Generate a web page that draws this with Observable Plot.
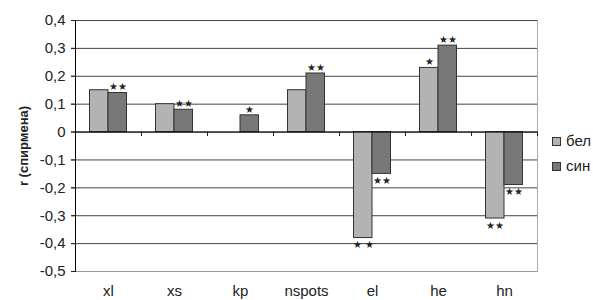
<!DOCTYPE html>
<html><head><meta charset="utf-8">
<script src="https://cdn.jsdelivr.net/npm/d3@7"></script>
<script src="https://cdn.jsdelivr.net/npm/@observablehq/plot@0.6"></script>
<style>
body{margin:0;background:#fff;font-family:"Liberation Sans",Arial,sans-serif;}
#wrap{position:relative;width:593px;height:300px;}
.lg{position:absolute;left:552px;font-size:15px;line-height:16px;color:#222;display:flex;align-items:center;}
.lg span.sw{display:inline-block;width:7px;height:7px;border:1px solid #333;margin-right:5px;}
</style></head>
<body><div id="wrap"></div>
<script>
const categories = ["xl","xs","kp","nspots","el","he","hn"];
const series = ["бел","син"];
const valuesBel = [0.15, 0.10, null, 0.15, -0.38, 0.23, -0.31];
const valuesSin = [0.14, 0.08, 0.06, 0.21, -0.15, 0.31, -0.19];
const starsBel = ["", "", "", "", "★ ★", "★", "★★"];
const starsSin = ["★★", "★★", "★", "★★", "★★", "★★", "★★"];
const yTicks = [0.4,0.3,0.2,0.1,0,-0.1,-0.2,-0.3,-0.4,-0.5];
const colors = ["#b3b3b3","#787878"];

const rows = [];
categories.forEach((c,i)=>{
  if (valuesBel[i] != null) rows.push({cat:c, s:"бел", v:valuesBel[i], star:starsBel[i]});
  rows.push({cat:c, s:"син", v:valuesSin[i], star:starsSin[i]});
});
const bel = rows.filter(d=>d.s==="бел"), sin = rows.filter(d=>d.s==="син");
const pos = a => a.filter(d=>d.v>=0 && d.star), neg = a => a.filter(d=>d.v<0 && d.star);
const fmt = d => d===0 ? "0" : d.toFixed(1).replace(".", ",");

const chart = Plot.plot({
  width:593, height:300,
  marginLeft:75, marginRight:56, marginTop:20, marginBottom:29,
  style:{fontFamily:"Liberation Sans, Arial, sans-serif", fontSize:"15px", color:"#222"},
  x:{domain:categories, padding:0},
  y:{domain:[-0.5,0.4]},
  marks:[
    Plot.ruleY(yTicks, {stroke:"#444", strokeWidth:1, insetLeft:-4}),
    Plot.frame({anchor:"right", stroke:"#aaa"}),
    Plot.ruleY([-0.5], {stroke:"#999"}),
    Plot.barY(bel, {x:"cat", y:"v", fill:colors[0], stroke:"#333", strokeWidth:1, insetLeft:14.5, insetRight:33}),
    Plot.barY(sin, {x:"cat", y:"v", fill:colors[1], stroke:"#333", strokeWidth:1, insetLeft:33, insetRight:14.5}),
    Plot.ruleY([0], {stroke:"#000"}),
    Plot.ruleX(categories, {x:d=>d, y1:0, y2:-0.016, dx:33, stroke:"#222", strokeWidth:1}),
    Plot.text(pos(bel), {x:"cat", y:"v", text:"star", dx:-9.25, dy:-6, fontSize:10, fill:"#222"}),
    Plot.text(pos(sin), {x:"cat", y:"v", text:"star", dx:9.25, dy:-6, fontSize:10, fill:"#222"}),
    Plot.text(neg(bel), {x:"cat", y:"v", text:"star", dx:-9.25, dy:7, fontSize:10, fill:"#222"}),
    Plot.text(neg(sin), {x:"cat", y:"v", text:"star", dx:9.25, dy:7, fontSize:10, fill:"#222"}),
    Plot.axisY({ticks:yTicks, tickFormat:fmt, tickSize:4, tickPadding:6, label:"r (спирмена)", labelAnchor:"center", labelArrow:false, labelOffset:57}),
    Plot.frame({anchor:"left", stroke:"#000"}),
    Plot.axisX({tickSize:0, tickPadding:14, label:null})
  ]
});
document.getElementById("wrap").appendChild(chart);
chart.querySelectorAll("text").forEach(t=>{ if(t.textContent.includes("спирмена")) { t.style.fontWeight="bold"; t.style.fontSize="13px"; } });
const wrap=document.getElementById("wrap");
series.forEach((s,i)=>{
  const d=document.createElement("div"); d.className="lg";
  d.style.top=(133+i*25)+"px";
  d.innerHTML=`<span class="sw" style="background:${colors[i]}"></span>${s}`;
  wrap.appendChild(d);
});
</script></body></html>
